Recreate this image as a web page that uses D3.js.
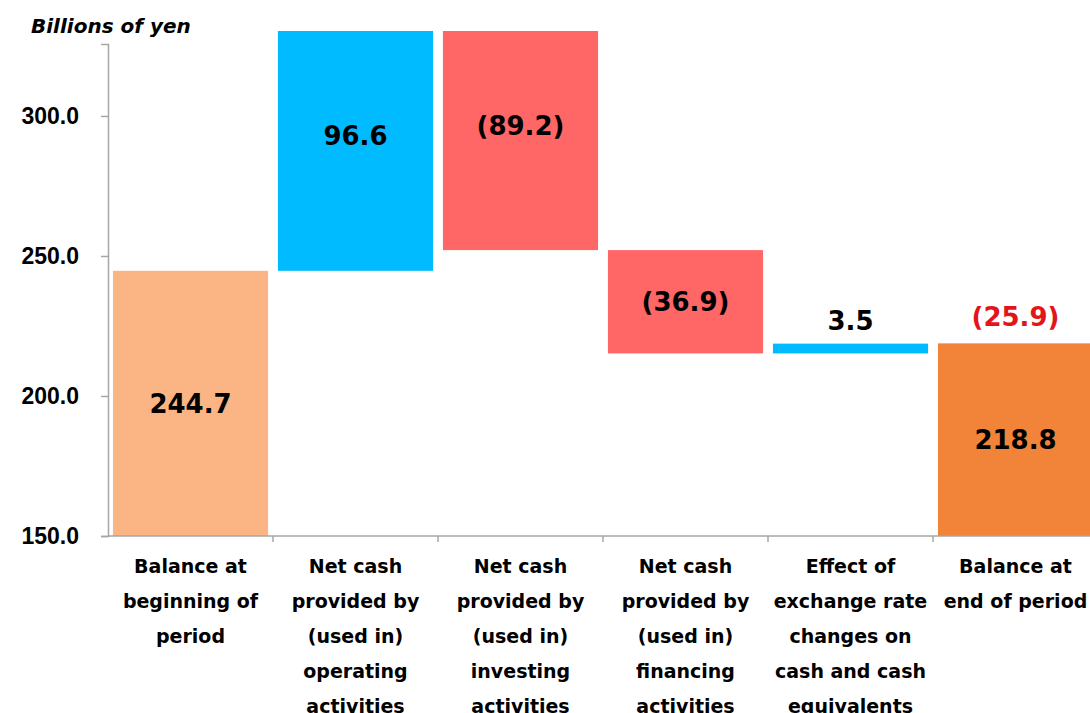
<!DOCTYPE html>
<html>
<head>
<meta charset="utf-8">
<script src="https://cdn.jsdelivr.net/npm/d3@7"></script>
<style>
  body { margin: 0; background: #fff; }
  svg { display: block; font-family: "DejaVu Sans", Verdana, sans-serif; }
</style>
</head>
<body>
<div id="chart"></div>
<script>
// Cash flow waterfall (billions of yen)
const categories = [
    ['Balance at', 'beginning of', 'period'],
    ['Net cash', 'provided by', '(used in)', 'operating', 'activities'],
    ['Net cash', 'provided by', '(used in)', 'investing', 'activities'],
    ['Net cash', 'provided by', '(used in)', 'financing', 'activities'],
    ['Effect of', 'exchange rate', 'changes on', 'cash and cash', 'equivalents'],
    ['Balance at', 'end of period']
];
const values = [244.7, 96.6, -89.2, -36.9, 3.5, 218.8];
const barKinds = ['total', 'delta', 'delta', 'delta', 'delta', 'total'];
const netChange = -25.9;
const yTicks = [150, 200, 250, 300];
const yDomain = [150, 325.7];

const W = 1090, H = 713;
const left = 108, bottom = 536, axisTop = 44, clipTop = 31;

const colors = {
    start: '#fbb584',
    end: '#f2843a',
    up: '#00bbff',
    down: '#ff6666'
};

const fmt = v => v < 0 ? `(${d3.format('.1f')(-v)})` : d3.format('.1f')(v);

// Build waterfall segments
let running = 0;
const bars = values.map((v, i) => {
    const key = i;
    if (barKinds[i] === 'total') {
        running = v;
        return { key, y0: yDomain[0], y1: v, value: v, color: i === 0 ? colors.start : colors.end };
    }
    const y0 = running;
    running += v;
    return { key, y0, y1: running, value: v, color: v >= 0 ? colors.up : colors.down };
});

const svg = d3.select('#chart').append('svg')
    .attr('width', W)
    .attr('height', H);

const x = d3.scaleBand()
    .domain(d3.range(categories.length))
    .range([left, left + 6 * 165])
    .paddingInner(0.06)
    .paddingOuter(0.03);

const y = d3.scaleLinear()
    .domain(yDomain)
    .range([bottom, axisTop]);

svg.append('clipPath')
    .attr('id', 'plot-clip')
    .append('rect')
    .attr('x', left)
    .attr('y', clipTop)
    .attr('width', W - left)
    .attr('height', bottom - clipTop);

// Bars
svg.append('g')
    .attr('clip-path', 'url(#plot-clip)')
    .selectAll('rect')
    .data(bars)
    .join('rect')
    .attr('x', d => x(d.key))
    .attr('width', x.bandwidth())
    .attr('y', d => y(Math.max(d.y0, d.y1)))
    .attr('height', d => Math.abs(y(d.y0) - y(d.y1)))
    .attr('fill', d => d.color);

// Axes
const yAxis = svg.append('g')
    .attr('transform', `translate(${left},0)`)
    .call(d3.axisLeft(y).tickValues(yTicks).tickFormat(d3.format('.1f')).tickSize(7).tickPadding(22));

const xAxis = svg.append('g')
    .attr('transform', `translate(0,${bottom})`)
    .call(d3.axisBottom(x).tickSize(0).tickFormat(''));

xAxis.selectAll('.tick').remove();
xAxis.select('.domain').attr('d', `M${left},0H${W}`);

// band separators on x axis
xAxis.selectAll('.sep')
    .data(d3.range(1, categories.length))
    .join('line')
    .attr('class', 'sep')
    .attr('x1', d => x(d) - x.step() * x.paddingInner() / 2)
    .attr('x2', d => x(d) - x.step() * x.paddingInner() / 2)
    .attr('y1', 0)
    .attr('y2', 6);

[yAxis, xAxis].forEach(g => {
    g.selectAll('.domain, line').attr('stroke', '#a6a6a6').attr('stroke-width', 1.5);
});

yAxis.selectAll('text')
    .style('font-size', '23px')
    .style('font-weight', 'bold')
    .attr('fill', '#000');

// Category labels
svg.append('g')
    .selectAll('text')
    .data(categories)
    .join('text')
    .attr('text-anchor', 'middle')
    .style('font-size', '19px')
    .style('font-weight', 'bold')
    .attr('fill', '#000')
    .each(function(lines, i) {
        d3.select(this).selectAll('tspan')
            .data(lines)
            .join('tspan')
            .attr('x', x(i) + x.bandwidth() / 2)
            .attr('y', (d, j) => 573 + j * 35)
            .text(d => d);
    });

// Value labels
const label = svg.append('g')
    .style('font-size', '26px')
    .style('font-weight', 'bold');

label.selectAll('text.val')
    .data(bars)
    .join('text')
    .attr('class', 'val')
    .attr('text-anchor', 'middle')
    .attr('x', d => x(d.key) + x.bandwidth() / 2)
    .attr('y', d => Math.abs(d.value) < 10
        ? y(Math.max(d.y0, d.y1)) - 23
        : y((d.y0 + d.y1) / 2))
    .attr('dy', '0.36em')
    .attr('fill', '#000')
    .text(d => fmt(d.value));

// Net change above the closing balance
label.append('text')
    .attr('text-anchor', 'middle')
    .attr('x', x(5) + x.bandwidth() / 2)
    .attr('y', y(values[5]) - 27)
    .attr('dy', '0.36em')
    .attr('fill', '#e3141a')
    .text(fmt(netChange));

// Unit title
svg.append('text')
    .attr('x', 31)
    .attr('y', 33)
    .style('font-size', '20px')
    .style('font-weight', 'bold')
    .style('font-style', 'italic')
    .attr('fill', '#000')
    .text('Billions of yen');
</script>
</body>
</html>
